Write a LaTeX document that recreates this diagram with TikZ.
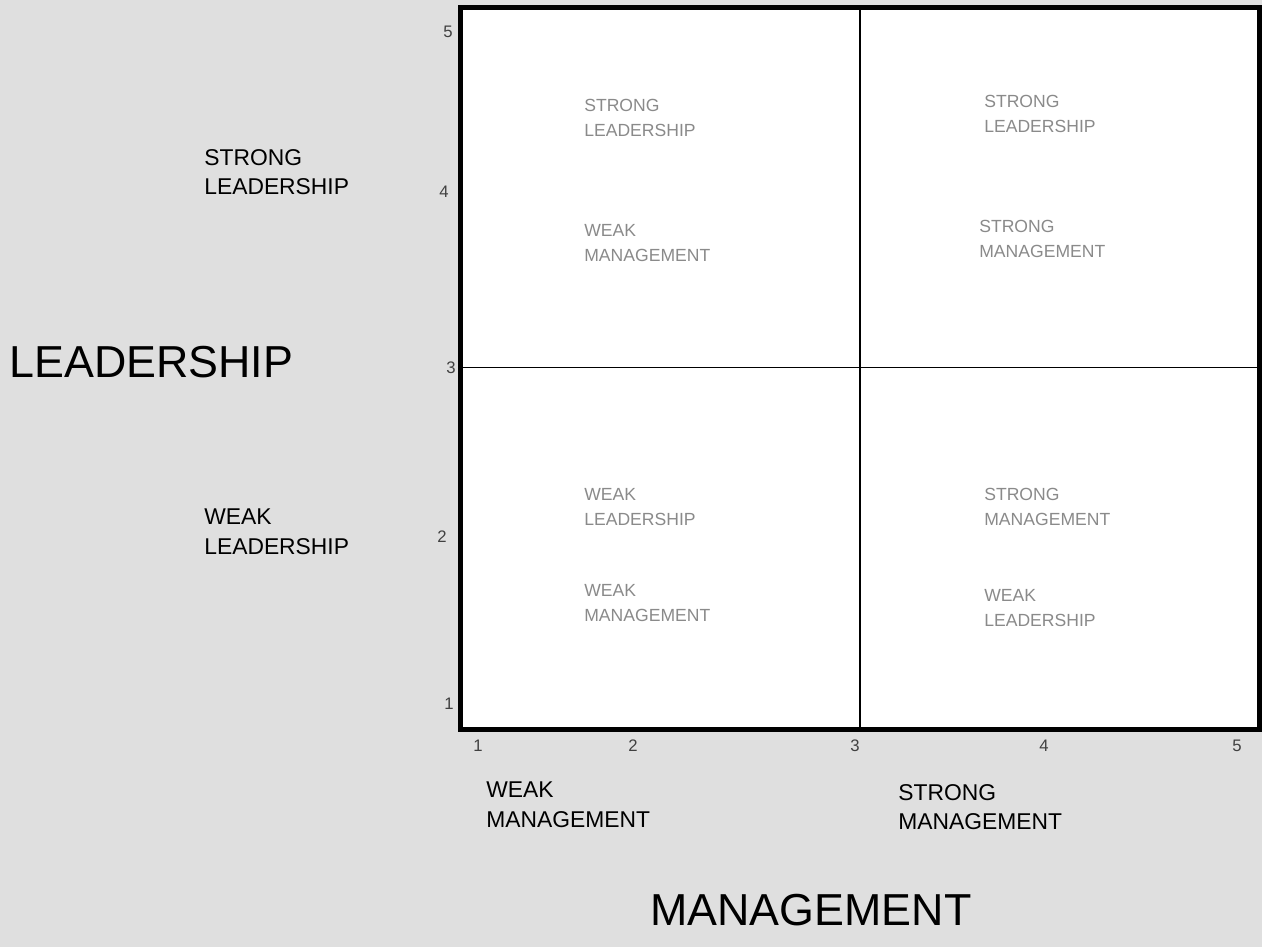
\documentclass[tikz,border=0pt]{standalone}
\usepackage{fontspec}
\setmainfont{Liberation Sans}
\usetikzlibrary{positioning}

\definecolor{bggray}{HTML}{DFDFDF}
\definecolor{cellgray}{HTML}{8A8A8A}

\begin{document}
\begin{tikzpicture}[
    x=0.02cm, y=-0.02cm,
    cell/.style={anchor=west, align=left, inner sep=0pt, text=cellgray, font=\fontsize{10}{14.2}\selectfont},
    side/.style={anchor=west, align=left, inner sep=0pt, font=\fontsize{13}{16.8}\selectfont},
    axis/.style={anchor=west, inner sep=0pt, font=\fontsize{25.5}{30}\selectfont},
    tick/.style={inner sep=0pt, text=black!75, font=\fontsize{9.5}{11}\selectfont},
    frame/.style={draw, line width=2.9pt, fill=white},
    divider/.style={line width=0.6pt}
]

% Background
\fill[bggray] (0,0) rectangle (1262,947);
\useasboundingbox (0,0) rectangle (1262,947);

% Grid frame
\draw[frame] (460.5,7.5) rectangle (1259.5,729.5);
\coordinate (top) at (860,7.5);
\coordinate (bottom) at (860,729.5);
\coordinate (left) at (460.5,367.5);
\coordinate (right) at (1259.5,367.5);

% Dividers
\draw[divider] (top) -- (bottom);
\draw[divider] (left) -- (right);

% Axis titles
\node[axis] (leadership) at (9,362) {LEADERSHIP};
\node[axis] (management) at (650,910) {MANAGEMENT};

% Side labels
\node[side] (strongl) at (204,172) {STRONG\\LEADERSHIP};
\node[side] (weakl) at (204,532) {WEAK\\LEADERSHIP};
\node[side] (weakm) at (486,805) {WEAK\\MANAGEMENT};
\node[side] (strongm) at (898,807) {STRONG\\MANAGEMENT};

% Top left cell
\node[cell] (tlupper) at (584,118) {STRONG\\LEADERSHIP};
\node[cell] (tllower) at (584,243) {WEAK\\MANAGEMENT};

% Top right cell
\node[cell] (trupper) at (984,114) {STRONG\\LEADERSHIP};
\node[cell] (trlower) at (979,239) {STRONG\\MANAGEMENT};

% Bottom left cell
\node[cell] (blupper) at (584,507) {WEAK\\LEADERSHIP};
\node[cell] (bllower) at (584,603) {WEAK\\MANAGEMENT};

% Bottom right cell
\node[cell] (brupper) at (984,507) {STRONG\\MANAGEMENT};
\node[cell] (brlower) at (984,608) {WEAK\\LEADERSHIP};

% Leadership scale
\node[tick] (l5) at (448,32) {5};
\node[tick] (l4) at (444,192) {4};
\node[tick] (l3) at (451,368) {3};
\node[tick] (l2) at (442,537) {2};
\node[tick] (l1) at (449,704) {1};

% Management scale
\node[tick] (m1) at (478,746) {1};
\node[tick] (m2) at (633,746) {2};
\node[tick] (m3) at (855,746) {3};
\node[tick] (m4) at (1044,746) {4};
\node[tick] (m5) at (1237,746) {5};

\end{tikzpicture}
\end{document}
